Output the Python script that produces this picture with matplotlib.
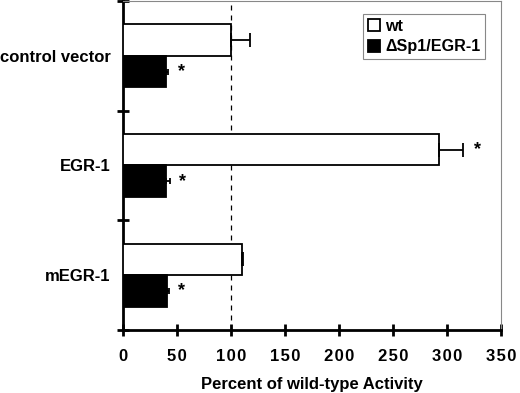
import matplotlib
matplotlib.use('Agg')
import matplotlib.pyplot as plt
import numpy as np

# data
groups = ['control vector', 'EGR-1', 'mEGR-1']
wt = [100, 293, 110]
wt_err = [18, 22, 1]
mut = [40, 40, 41]
mut_err = [2, 3.5, 1.5]
wt_star = [False, True, False]
mut_star = [True, True, True]
xticks = [0, 50, 100, 150, 200, 250, 300, 350]

plt.rcParams['font.family'] = ['Liberation Sans', 'DejaVu Sans']
plt.rcParams['font.weight'] = 'bold'

fig = plt.figure(figsize=(5.2, 3.93), dpi=100)
ax = fig.add_axes([0.2365, 0.1603, 0.727, 0.8372])

c = np.arange(len(groups)) + 0.5
h = 0.287
# one-sided error bars (right side only)
ax.barh(c - h / 2, wt, height=h, color='white', edgecolor='black', linewidth=1.3,
        xerr=[np.zeros(len(wt)), wt_err],
        error_kw=dict(ecolor='black', elinewidth=1.3, capsize=5, capthick=1.3),
        label='wt', zorder=3)
ax.barh(c + h / 2, mut, height=h, color='black', edgecolor='black', linewidth=1.3,
        xerr=[np.zeros(len(mut)), mut_err],
        error_kw=dict(ecolor='black', elinewidth=1.3, capsize=2, capthick=1.3),
        label='\u0394Sp1/EGR-1', zorder=3)

for i in range(len(groups)):
    if wt_star[i]:
        ax.text(wt[i] + wt_err[i] + 13, c[i] - h / 2, '*', ha='center', va='center', fontsize=13)
    if mut_star[i]:
        ax.text(mut[i] + mut_err[i] + 12, c[i] + h / 2, '*', ha='center', va='center', fontsize=13)

ax.axvline(100, color='black', linestyle=(0, (4, 4)), linewidth=0.9, zorder=1)

ax.set_xlim(0, 350)
ax.set_ylim(3, 0)
ax.set_xticks(xticks)
ax.set_xticklabels(['\u200a'.join(str(t)) for t in xticks], fontsize=12, fontweight='bold')
ax.set_yticks([0, 1, 2, 3])
ax.set_yticklabels([])
ax.set_yticks(c, minor=True)
ax.set_yticklabels(groups, minor=True, fontsize=12, fontweight='bold')
ax.tick_params(axis='y', which='minor', length=0, pad=9)
ax.tick_params(axis='y', which='major', direction='inout', length=8, width=2)
ax.tick_params(axis='x', direction='inout', length=8, width=2, pad=10)

for s in ['left', 'bottom']:
    ax.spines[s].set_linewidth(2)
for s in ['top', 'right']:
    ax.spines[s].set_color('#888888')
    ax.spines[s].set_linewidth(0.8)

ax.set_xlabel('Percent of wild-type Activity', fontsize=12, fontweight='bold', labelpad=9)

leg = ax.legend(loc='upper right', bbox_to_anchor=(0.98, 0.985), fontsize=11.6,
                frameon=True, fancybox=False, edgecolor='#888888', framealpha=1,
                handlelength=0.8, handleheight=0.8, handletextpad=0.3, borderpad=0.3,
                labelspacing=0.35)
leg.get_frame().set_linewidth(0.8)
for t in leg.get_texts():
    t.set_fontweight('bold')

fig.savefig('out.png', dpi=100)
